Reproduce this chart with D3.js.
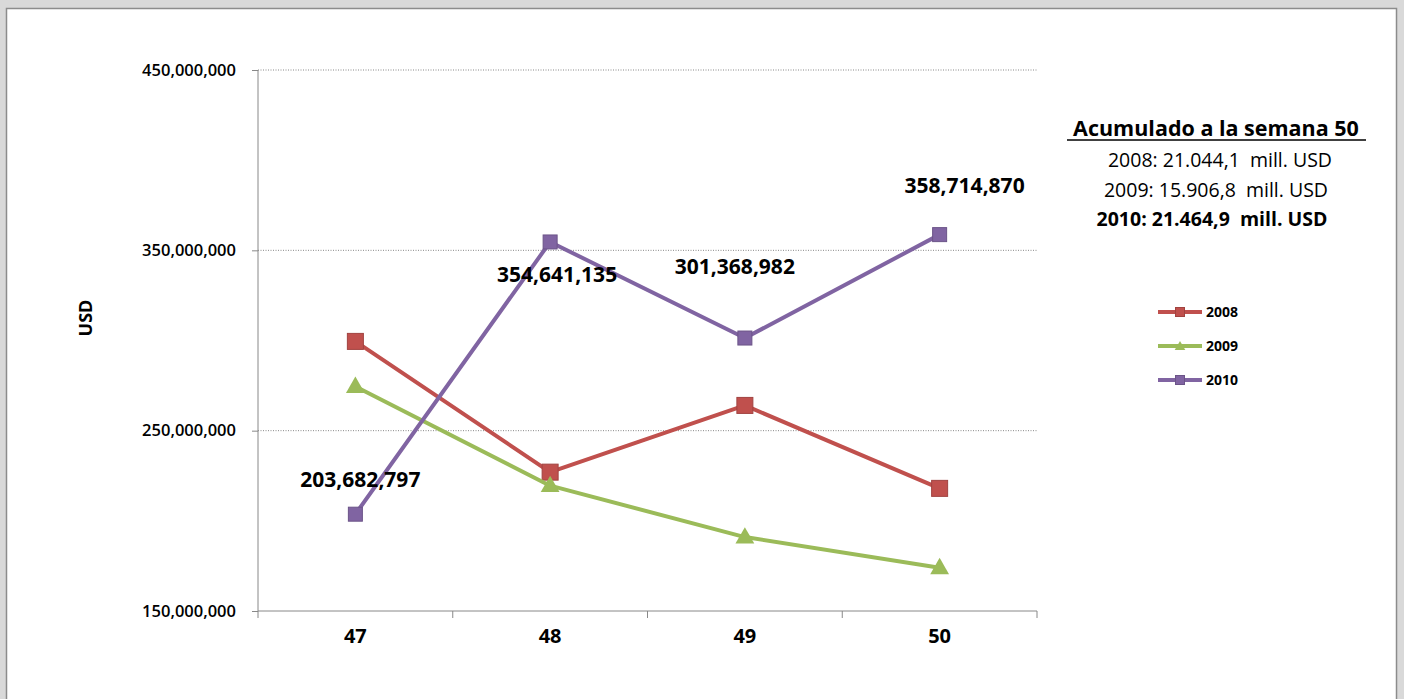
<!DOCTYPE html>
<html><head><meta charset="utf-8">
<script src="https://cdn.jsdelivr.net/npm/d3@7"></script>
<style>body{margin:0;background:#d9d9d9;}svg{display:block;font-family:"Open Sans","DejaVu Sans",sans-serif;}</style>
</head><body><svg></svg>
<script>
// chart data
var weeks = ["47", "48", "49", "50"];
var years = ["2008", "2009", "2010"];
var values2008 = [299500000, 227000000, 264000000, 218000000];
var values2009 = [274500000, 219500000, 191000000, 174000000];
var values2010 = [203682797, 354641135, 301368982, 358714870];
var yTicks = [150000000, 250000000, 350000000, 450000000];
var colors = ["#c0504d", "#9bbb59", "#8064a2"];
var summaryLines = ["2008: 21.044,1  mill. USD", "2009: 15.906,8  mill. USD", "2010: 21.464,9  mill. USD"];

var series = [values2008, values2009, values2010];

var svg = d3.select("svg").attr("width", 1404).attr("height", 699);

// white chart frame
svg.append("rect").attr("x", 6.5).attr("y", 8.5).attr("width", 1390).attr("height", 700)
    .attr("fill", "#fff").attr("stroke", "#8c8c8c").attr("stroke-width", 1.5);

var x = d3.scaleBand().domain(weeks).range([258, 1037]);
var y = d3.scaleLinear().domain([150000000, 450000000]).range([611, 70]);
var fmt = d3.format(",");

// gridlines
svg.append("g").selectAll("line").data(yTicks.slice(1)).join("line")
    .attr("x1", 258).attr("x2", 1037).attr("y1", d => y(d)).attr("y2", d => y(d))
    .attr("stroke", "#888").attr("stroke-dasharray", "1,1.5");

// y axis
var yAxis = svg.append("g").attr("transform", "translate(258,0)")
    .call(d3.axisLeft(y).tickValues(yTicks).tickFormat(fmt).tickSize(6).tickPadding(16));
yAxis.select(".domain").attr("stroke", "#888").attr("d", "M0,70V611");
yAxis.selectAll("line").attr("stroke", "#888");
yAxis.attr("font-size", 16.5).attr("font-family", null);
yAxis.selectAll("text").attr("font-weight", 600).attr("fill", "#000");

// x axis
var xAxis = svg.append("g").attr("transform", "translate(0,611)")
    .call(d3.axisBottom(x).tickSize(0).tickPadding(18));
xAxis.select(".domain").attr("stroke", "#888").attr("d", "M258,0H1037");
xAxis.attr("font-size", 20).attr("font-family", null);
xAxis.selectAll(".tick text").attr("font-weight", "bold").attr("fill", "#000");
svg.append("g").selectAll("line").data(weeks.concat(["end"])).join("line")
    .attr("x1", (d, i) => 258 + i * x.step()).attr("x2", (d, i) => 258 + i * x.step())
    .attr("y1", 611).attr("y2", 618).attr("stroke", "#888");

svg.append("text").attr("transform", "translate(92,318) rotate(-90)")
    .attr("text-anchor", "middle").attr("font-size", 18).attr("font-weight", "bold").text("USD");

var cx = d => x(d) + x.bandwidth() / 2;
var line = d3.line().x((d, i) => cx(weeks[i])).y(d => y(d));

function marker(g, k, px, py, s) {
    if (k === 1) {
        g.append("path").attr("d", d3.symbol(d3.symbolTriangle, s * s * 0.6)())
            .attr("transform", "translate(" + px + "," + (py + 1) + ")").attr("fill", colors[k]);
    } else {
        g.append("rect").attr("x", px - s / 2).attr("y", py - s / 2).attr("width", s).attr("height", s)
            .attr("fill", colors[k]).attr("stroke", d3.color(colors[k]).darker(0.5)).attr("stroke-width", 1);
    }
}

series.forEach(function(vals, k) {
    var g = svg.append("g");
    g.append("path").datum(vals).attr("d", line).attr("fill", "none")
        .attr("stroke", colors[k]).attr("stroke-width", 4).attr("stroke-linejoin", "round");
    vals.forEach((v, i) => marker(g, k, cx(weeks[i]), y(v), k === 2 ? 14 : 16));
});

// 2010 data labels
var labelDy = [-27, 40, -64, -42];
var labelDx = [5, 7, -10, 25];
svg.append("g").selectAll("text").data(values2010).join("text")
    .attr("x", (d, i) => cx(weeks[i]) + labelDx[i]).attr("y", (d, i) => y(d) + labelDy[i])
    .attr("text-anchor", "middle").attr("font-size", 21).attr("font-weight", "bold").text(d => fmt(d));

// summary box
svg.append("text").attr("x", 1216).attr("y", 136).attr("text-anchor", "middle")
    .attr("font-size", 21.5).attr("font-weight", "bold")
    .text("Acumulado a la semana 50");
svg.append("line").attr("x1", 1067).attr("x2", 1366).attr("y1", 140).attr("y2", 140).attr("stroke", "#000").attr("stroke-width", 1.5);
svg.append("g").selectAll("text").data(summaryLines).join("text")
    .attr("x", (d, i) => 1220 - i * 4).attr("y", (d, i) => 167 + i * 29.5).attr("text-anchor", "middle")
    .attr("font-size", 19.5).attr("font-weight", (d, i) => i === 2 ? "bold" : "normal")
    .attr("xml:space", "preserve").style("white-space", "pre").text(d => d);

// legend
var leg = svg.append("g").selectAll("g").data(years).join("g")
    .attr("transform", (d, i) => "translate(1158," + (312 + i * 34) + ")");
leg.append("line").attr("x1", 0).attr("x2", 44).attr("stroke", (d, i) => colors[i]).attr("stroke-width", 4);
leg.each(function(d, i) { marker(d3.select(this), i, 22, 0, 9); });
leg.append("text").attr("x", 48).attr("y", 5).attr("font-size", 14).attr("font-weight", "bold").text(d => d);
</script></body></html>
